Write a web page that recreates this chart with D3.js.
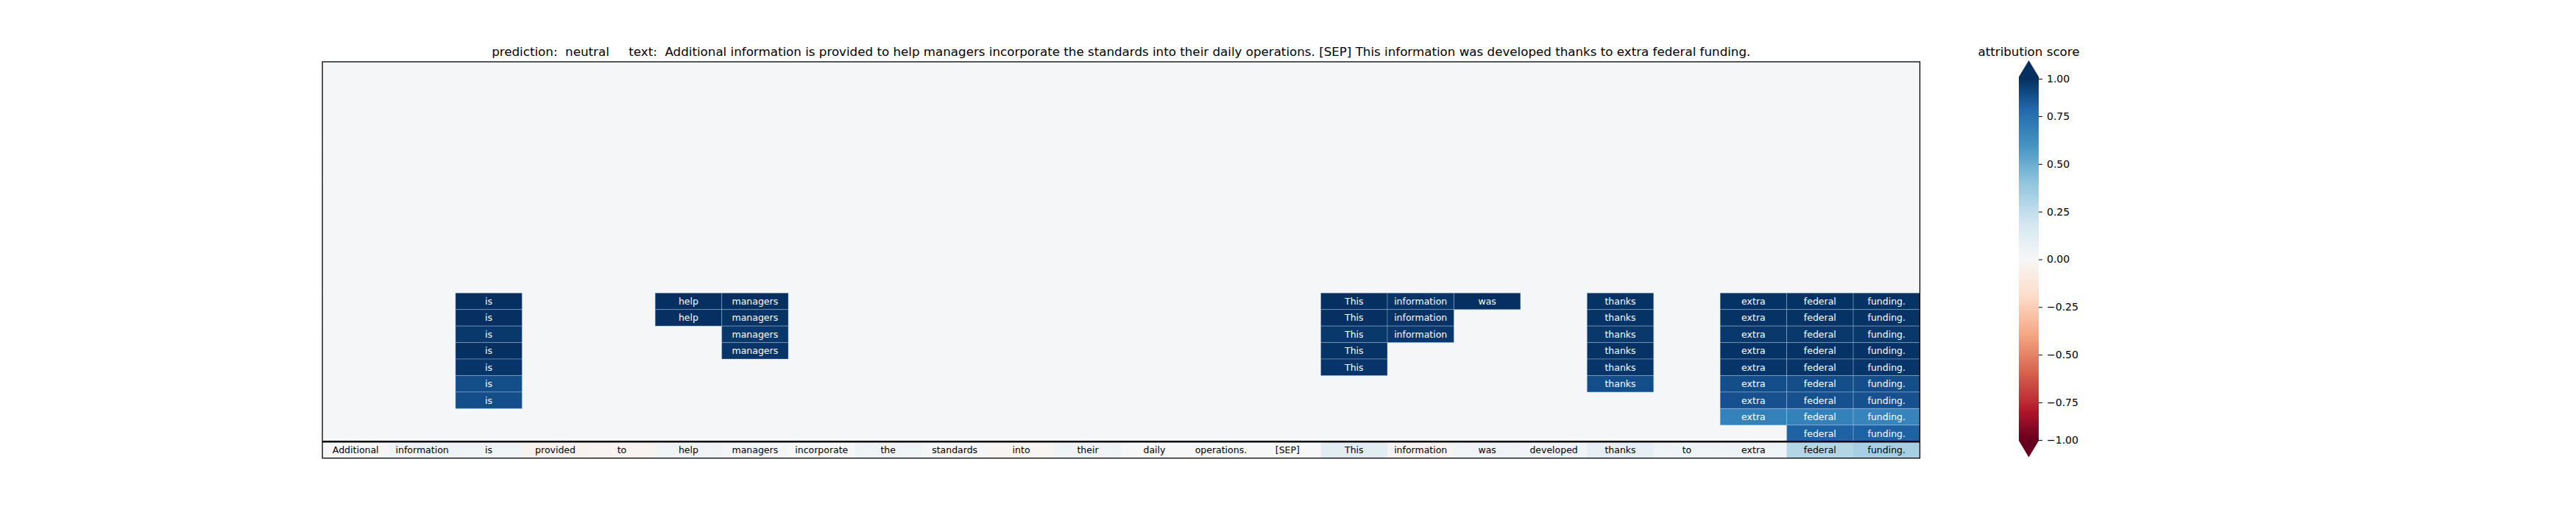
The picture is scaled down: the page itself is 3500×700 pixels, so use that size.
<!DOCTYPE html>
<html>
<head>
<meta charset="utf-8">
<script src="https://cdn.jsdelivr.net/npm/d3@7"></script>
<style>
  html, body { margin: 0; padding: 0; background: #fff; }
  text { font-family: "DejaVu Sans", sans-serif; }
</style>
</head>
<body>
<svg id="chart" width="3500" height="700"></svg>
<script>
// ---------------- data ----------------
const predictionLabel = "neutral";
const tokens = ["Additional","information","is","provided","to","help","managers","incorporate","the","standards","into","their","daily","operations.","[SEP]","This","information","was","developed","thanks","to","extra","federal","funding."];

// attribution rows (top to bottom); last row is the summed attribution shown with all tokens
const row00 = [0.01,0.01,0.01,0.01,0.01,0.01,0.01,0.01,0.01,0.01,0.01,0.01,0.01,0.01,0.01,0.01,0.01,0.01,0.01,0.01,0.01,0.01,0.01,0.01];
const row01 = [0.01,0.01,0.01,0.01,0.01,0.01,0.01,0.01,0.01,0.01,0.01,0.01,0.01,0.01,0.01,0.01,0.01,0.01,0.01,0.01,0.01,0.01,0.01,0.01];
const row02 = [0.01,0.01,0.01,0.01,0.01,0.01,0.01,0.01,0.01,0.01,0.01,0.01,0.01,0.01,0.01,0.01,0.01,0.01,0.01,0.01,0.01,0.01,0.01,0.01];
const row03 = [0.01,0.01,0.01,0.01,0.01,0.01,0.01,0.01,0.01,0.01,0.01,0.01,0.01,0.01,0.01,0.01,0.01,0.01,0.01,0.01,0.01,0.01,0.01,0.01];
const row04 = [0.01,0.01,0.01,0.01,0.01,0.01,0.01,0.01,0.01,0.01,0.01,0.01,0.01,0.01,0.01,0.01,0.01,0.01,0.01,0.01,0.01,0.01,0.01,0.01];
const row05 = [0.01,0.01,0.01,0.01,0.01,0.01,0.01,0.01,0.01,0.01,0.01,0.01,0.01,0.01,0.01,0.01,0.01,0.01,0.01,0.01,0.01,0.01,0.01,0.01];
const row06 = [0.01,0.01,0.01,0.01,0.01,0.01,0.01,0.01,0.01,0.01,0.01,0.01,0.01,0.01,0.01,0.01,0.01,0.01,0.01,0.01,0.01,0.01,0.01,0.01];
const row07 = [0.01,0.01,0.01,0.01,0.01,0.01,0.01,0.01,0.01,0.01,0.01,0.01,0.01,0.01,0.01,0.01,0.01,0.01,0.01,0.01,0.01,0.01,0.01,0.01];
const row08 = [0.01,0.01,0.01,0.01,0.01,0.01,0.01,0.01,0.01,0.01,0.01,0.01,0.01,0.01,0.01,0.01,0.01,0.01,0.01,0.01,0.01,0.01,0.01,0.01];
const row09 = [0.01,0.01,0.01,0.01,0.01,0.01,0.01,0.01,0.01,0.01,0.01,0.01,0.01,0.01,0.01,0.01,0.01,0.01,0.01,0.01,0.01,0.01,0.01,0.01];
const row10 = [0.01,0.01,0.01,0.01,0.01,0.01,0.01,0.01,0.01,0.01,0.01,0.01,0.01,0.01,0.01,0.01,0.01,0.01,0.01,0.01,0.01,0.01,0.01,0.01];
const row11 = [0.01,0.01,0.01,0.01,0.01,0.01,0.01,0.01,0.01,0.01,0.01,0.01,0.01,0.01,0.01,0.01,0.01,0.01,0.01,0.01,0.01,0.01,0.01,0.01];
const row12 = [0.01,0.01,0.01,0.01,0.01,0.01,0.01,0.01,0.01,0.01,0.01,0.01,0.01,0.01,0.01,0.01,0.01,0.01,0.01,0.01,0.01,0.01,0.01,0.01];
const row13 = [0.01,0.01,0.01,0.01,0.01,0.01,0.01,0.01,0.01,0.01,0.01,0.01,0.01,0.01,0.01,0.01,0.01,0.01,0.01,0.01,0.01,0.01,0.01,0.01];
const row14 = [0.01,0.01,1.00,0.01,0.01,1.00,1.00,0.01,0.01,0.01,0.01,0.01,0.01,0.01,0.01,1.00,0.98,1.00,0.01,0.99,0.01,0.99,0.99,0.99];
const row15 = [0.01,0.01,1.00,0.01,0.01,1.00,0.99,0.01,0.01,0.01,0.01,0.01,0.01,0.01,0.01,1.00,0.99,0.01,0.01,0.99,0.01,0.99,0.99,0.99];
const row16 = [0.01,0.01,0.97,0.01,0.01,0.01,0.97,0.01,0.01,0.01,0.01,0.01,0.01,0.01,0.01,0.97,0.97,0.01,0.01,0.97,0.01,0.97,0.97,0.97];
const row17 = [0.01,0.01,1.00,0.01,0.01,0.01,0.98,0.01,0.01,0.01,0.01,0.01,0.01,0.01,0.01,0.99,0.01,0.01,0.01,0.99,0.01,0.99,0.99,0.99];
const row18 = [0.01,0.01,0.98,0.01,0.01,0.01,0.01,0.01,0.01,0.01,0.01,0.01,0.01,0.01,0.01,0.98,0.01,0.01,0.01,0.98,0.01,0.98,0.98,0.98];
const row19 = [0.01,0.01,0.89,0.01,0.01,0.01,0.01,0.01,0.01,0.01,0.01,0.01,0.01,0.01,0.01,0.01,0.01,0.01,0.01,0.89,0.01,0.89,0.89,0.89];
const row20 = [0.01,0.01,0.89,0.01,0.01,0.01,0.01,0.01,0.01,0.01,0.01,0.01,0.01,0.01,0.01,0.01,0.01,0.01,0.01,0.01,0.01,0.88,0.88,0.88];
const row21 = [0.01,0.01,0.01,0.01,0.01,0.01,0.01,0.01,0.01,0.01,0.01,0.01,0.01,0.01,0.01,0.01,0.01,0.01,0.01,0.01,0.01,0.68,0.68,0.67];
const row22 = [0.01,0.01,0.01,0.01,0.01,0.01,0.01,0.01,0.01,0.01,0.01,0.01,0.01,0.01,0.01,0.01,0.01,0.01,0.01,0.01,0.01,0.01,0.82,0.82];
const summedRow = [-0.005,0.05,0.045,-0.036,-0.03,0.04,0.02,0.0,0.05,0.02,-0.02,0.05,0.0,0.0,0.0,0.11,-0.03,0.04,0.03,0.10,0.045,0.045,0.295,0.336];

const layerRows = [row00,row01,row02,row03,row04,row05,row06,row07,row08,row09,row10,row11,row12,row13,row14,row15,row16,row17,row18,row19,row20,row21,row22];
const colorbarTicks = [1.0,0.75,0.5,0.25,0.0,-0.25,-0.5,-0.75,-1.0];
const rdbuStops = ["#67001f","#b2182b","#d6604d","#f4a582","#fddbc7","#f7f7f7","#d1e5f0","#92c5de","#4393c3","#2166ac","#053061"];

// ---------------- drawing ----------------
const svg = d3.select("#chart");
svg.append("rect").attr("width",3500).attr("height",700).attr("fill","#fff");

const allRows = layerRows.concat([summedRow]);
const nRows = allRows.length, nCols = tokens.length;
const x = d3.scaleBand().domain(d3.range(nCols)).range([438, 2608.5]).padding(0);
const y = d3.scaleBand().domain(d3.range(nRows)).range([84, 622.7]).padding(0);
const color = d3.scaleLinear()
  .domain(d3.range(rdbuStops.length).map(i => -1 + 2 * i / (rdbuStops.length - 1)))
  .range(rdbuStops).interpolate(d3.interpolateRgb).clamp(true);

const cells = [];
allRows.forEach((r, ri) => r.forEach((v, ci) => cells.push({ri, ci, v, last: ri === nRows - 1})));

const g = svg.append("g");
const isHi = d => !d.last && Math.abs(d.v) > 0.5;
g.selectAll("rect.cell").data(cells.filter(d => !isHi(d))).join("rect")
  .attr("class","cell")
  .attr("x", d => x(d.ci)).attr("y", d => y(d.ri))
  .attr("width", x.bandwidth() + 0.5).attr("height", y.bandwidth() + 0.5)
  .attr("fill", d => color(d.v));
g.selectAll("rect.hcell").data(cells.filter(isHi)).join("rect")
  .attr("class","hcell")
  .attr("x", d => x(d.ci)).attr("y", d => y(d.ri))
  .attr("width", x.bandwidth()).attr("height", y.bandwidth())
  .attr("fill", d => color(d.v))
  .attr("stroke", "rgba(190,210,235,0.35)").attr("stroke-width", 1);

g.selectAll("text.lbl").data(cells.filter(d => d.last || isHi(d))).join("text")
  .attr("class","lbl")
  .attr("x", d => x(d.ci) + x.bandwidth() / 2)
  .attr("y", d => y(d.ri) + y.bandwidth() / 2)
  .attr("text-anchor","middle").attr("dominant-baseline","central")
  .attr("font-size", 12.5)
  .attr("fill", d => Math.abs(d.v) > 0.5 ? "#fff" : "#000")
  .text(d => tokens[d.ci]);

svg.append("line")
  .attr("x1", 438).attr("x2", 2608.5)
  .attr("y1", y(nRows - 1)).attr("y2", y(nRows - 1))
  .attr("stroke","#000").attr("stroke-width", 2.5);

svg.append("rect")
  .attr("x", 438).attr("y", 84).attr("width", 2608.5 - 438).attr("height", 622.7 - 84)
  .attr("fill","none").attr("stroke","#000").attr("stroke-width", 1.3);

svg.append("text")
  .attr("x", (438 + 2608.5) / 2).attr("y", 76)
  .attr("text-anchor","middle").attr("font-size", 16.7)
  .style("white-space","pre")
  .text("prediction:  " + predictionLabel + "     text:  " + tokens.join(" "));

// ---------------- colorbar ----------------
const cbX0 = 2743, cbX1 = 2770;
const cb = d3.scaleLinear().domain([-1, -0.75, 0.75, 1]).range([598, 547, 158, 107]);
const cbTop = 104.5, cbBot = 599;
const cbg = svg.append("g");
d3.range(Math.floor(cbTop), Math.ceil(cbBot)).forEach(py => {
  const v = Math.max(-1, Math.min(1, cb.invert(py + 0.5)));
  cbg.append("rect").attr("x", cbX0).attr("y", py).attr("width", cbX1 - cbX0).attr("height", 1.05)
    .attr("fill", color(v));
});
cbg.append("path")
  .attr("d", `M${cbX0},${cbTop}L${(cbX0+cbX1)/2},82L${cbX1},${cbTop}Z`)
  .attr("fill", color(1));
cbg.append("path")
  .attr("d", `M${cbX0},${cbBot}L${(cbX0+cbX1)/2},621.5L${cbX1},${cbBot}Z`)
  .attr("fill", color(-1));

const axis = d3.axisRight(cb).tickValues(colorbarTicks).tickSize(5).tickPadding(6)
  .tickFormat(d => d3.format(".2f")(d));
const ax = svg.append("g").attr("transform", `translate(${cbX1},0)`).call(axis);
ax.select(".domain").remove();
ax.selectAll("text").attr("font-size", 14).attr("font-family", "DejaVu Sans").attr("fill", "#000");
ax.selectAll("line").attr("stroke", "#000").attr("stroke-width", 1);

svg.append("text")
  .attr("x", (cbX0 + cbX1) / 2).attr("y", 76)
  .attr("text-anchor","middle").attr("font-size", 16.7)
  .text("attribution score");
</script>
</body>
</html>
